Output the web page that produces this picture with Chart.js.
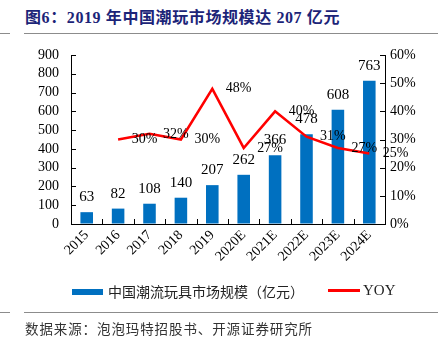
<!DOCTYPE html>
<html>
<head>
<meta charset="utf-8">
<script src="https://cdn.jsdelivr.net/npm/chart.js@4"></script>
<style>
  body { margin: 0; background: #fff; }
  #wrap { position: relative; width: 438px; height: 350px; overflow: hidden; }
  #chart { position: absolute; left: 0; top: 0; }
  .title { position: absolute; left: 25px; top: 4px; font: bold 16px "Liberation Serif", "Noto Sans CJK SC"; color: #1c2478; white-space: nowrap; letter-spacing: 0.6px; }
  .rule { position: absolute; height: 1px; background: #8c8c8c; }
  .legend { position: absolute; top: 281px; font: 14px "Noto Sans CJK SC"; color: #222; white-space: nowrap; }
  .src { position: absolute; left: 25px; top: 318px; font: 13.5px "Noto Sans CJK SC"; color: #333; white-space: nowrap; letter-spacing: 0.9px; }
</style>
</head>
<body>
<div id="wrap">
  <div class="title">图6：2019 年中国潮玩市场规模达 207 亿元</div>
  <div class="rule" style="left:0;width:10px;top:33px"></div>
  <div class="rule" style="left:24px;width:414px;top:33px"></div>
  <canvas id="chart" width="438" height="350"></canvas>
  <div class="legend" style="left:72px;"><span style="display:inline-block;width:31px;height:6px;background:#0070c0;vertical-align:middle;margin-right:5px;position:relative;top:-1px"></span>中国潮流玩具市场规模（亿元）</div>
  <div class="legend" style="left:328px;top:282px;font:15px 'Liberation Serif'"><span style="display:inline-block;width:32px;height:3px;background:#ff0000;vertical-align:middle;margin-right:3px;position:relative;top:-1px"></span>YOY</div>
  <div class="rule" style="left:0;width:10px;top:312px"></div>
  <div class="rule" style="left:24px;width:414px;top:312px"></div>
  <div class="src">数据来源：泡泡玛特招股书、开源证券研究所</div>
</div>
<script>
var years = ['2015', '2016', '2017', '2018', '2019', '2020E', '2021E', '2022E', '2023E', '2024E'];
var marketSize = [63, 82, 108, 140, 207, 262, 366, 478, 608, 763];
var yoy = [null, 30, 32, 30, 48, 27, 40, 31, 27, 25];
var leftTicks = [0, 900, 100];   // min, max, step
var rightTicks = [0, 60, 10];

var serif = 'Liberation Serif';

// ticks pointing into the plot, like the original
var innerTicks = {
    id: 'innerTicks',
    afterDraw: function (chart) {
        var ctx = chart.ctx;
        var area = chart.chartArea;
        var x = chart.scales.x, y = chart.scales.y, y1 = chart.scales.y1;
        ctx.save();
        ctx.strokeStyle = '#000';
        ctx.lineWidth = 1;
        ctx.beginPath();
        y.ticks.forEach(function (t) {
            var py = Math.round(y.getPixelForValue(t.value)) + 0.5;
            ctx.moveTo(area.left, py); ctx.lineTo(area.left + 5, py);
        });
        y1.ticks.forEach(function (t) {
            var py = Math.round(y1.getPixelForValue(t.value)) + 0.5;
            ctx.moveTo(area.right, py); ctx.lineTo(area.right - 5, py);
        });
        for (var i = 1; i < years.length; i++) {
            var px = Math.round(x.getPixelForValue(i - 0.5)) + 0.5;
            ctx.moveTo(px, area.bottom); ctx.lineTo(px, area.bottom - 5);
        }
        ctx.stroke();
        ctx.restore();
    }
};

var valueLabels = {
    id: 'valueLabels',
    afterDatasetsDraw: function (chart) {
        var ctx = chart.ctx;
        var x = chart.scales.x, y1 = chart.scales.y1;
        ctx.save();
        ctx.fillStyle = '#000';
        ctx.textAlign = 'center';
        ctx.textBaseline = 'middle';
        ctx.font = '15px ' + serif;
        chart.getDatasetMeta(1).data.forEach(function (bar, i) {
            ctx.fillText(marketSize[i], bar.x, bar.y - 15);
        });
        // the YOY labels sit one category to the right in the source
        ctx.font = '14px ' + serif;
        yoy.forEach(function (v, i) {
            if (v === null) return;
            ctx.fillText(v + '%', x.getPixelForValue(i + 1) - 5, y1.getPixelForValue(v));
        });
        ctx.restore();
    }
};

new Chart(document.getElementById('chart'), {
    type: 'bar',
    data: {
        labels: years,
        datasets: [{
            type: 'line',
            label: 'YOY',
            data: yoy,
            yAxisID: 'y1',
            borderColor: '#ff0000',
            borderWidth: 2.5,
            pointRadius: 0,
            tension: 0,
            order: 0
        }, {
            label: '中国潮流玩具市场规模（亿元）',
            data: marketSize,
            yAxisID: 'y',
            backgroundColor: '#0070c0',
            categoryPercentage: 1,
            barPercentage: 0.4,
            order: 1
        }]
    },
    options: {
        responsive: false,
        animation: false,
        layout: { padding: { top: 55, bottom: 80, left: 0, right: 0 } },
        plugins: { legend: { display: false }, tooltip: { enabled: false } },
        scales: {
            x: {
                offset: true,
                grid: { display: true, drawOnChartArea: false, drawTicks: false, offset: true },
                border: { display: true, color: '#000' },
                ticks: { autoSkip: false, minRotation: 45, maxRotation: 45, padding: 3, color: '#000', font: { family: serif, size: 14 } },
                afterFit: function (s) { s.height = 46; }
            },
            y: {
                position: 'left',
                min: leftTicks[0], max: leftTicks[1],
                grid: { display: true, drawOnChartArea: false, drawTicks: false },
                border: { display: true, color: '#000' },
                ticks: { autoSkip: false, stepSize: leftTicks[2], padding: 12, color: '#000', font: { family: serif, size: 14 } },
                afterFit: function (s) { s.width = 71; }
            },
            y1: {
                position: 'right',
                min: rightTicks[0], max: rightTicks[1],
                grid: { display: true, drawOnChartArea: false, drawTicks: false },
                border: { display: true, color: '#000' },
                ticks: { autoSkip: false, stepSize: rightTicks[2], padding: 5, color: '#000', font: { family: serif, size: 14 },
                    callback: function (v) { return v + '%'; } },
                afterFit: function (s) { s.width = 53; }
            }
        }
    },
    plugins: [innerTicks, valueLabels]
});
</script>
</body>
</html>
